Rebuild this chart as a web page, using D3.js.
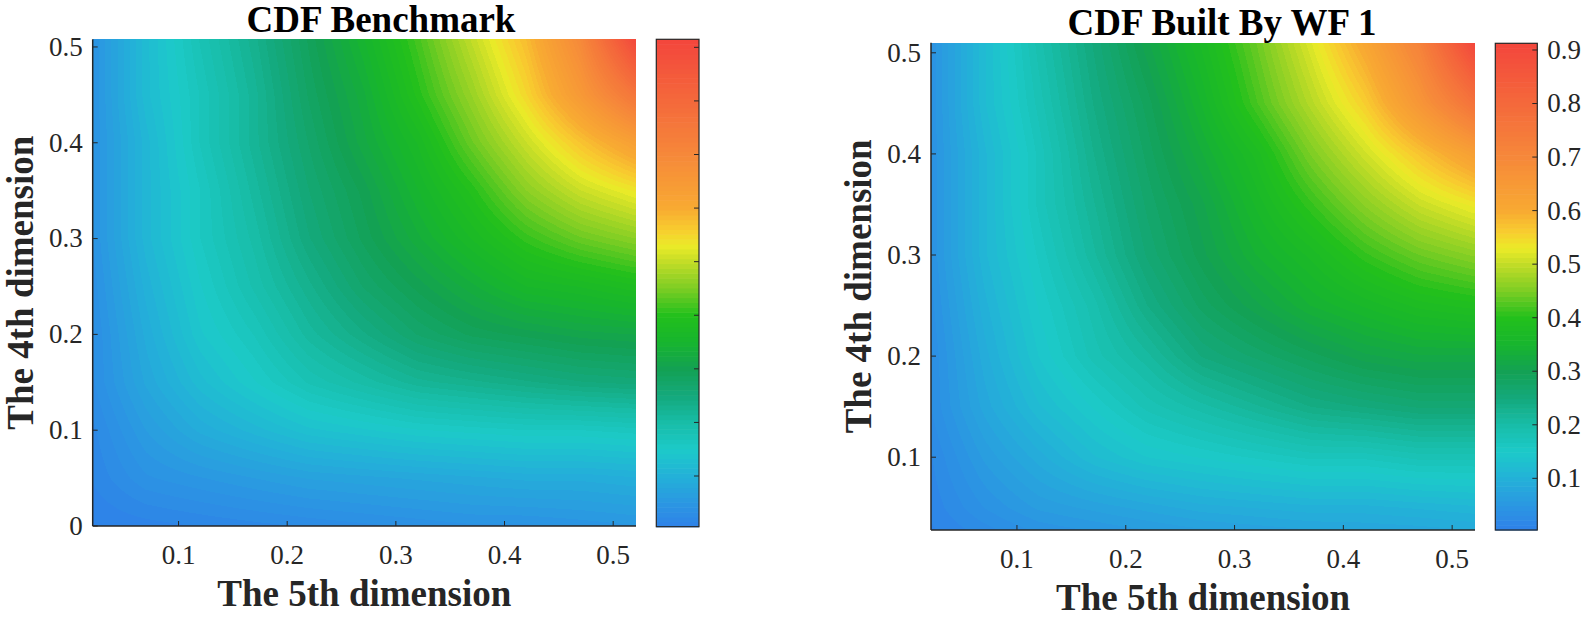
<!DOCTYPE html>
<html>
<head>
<meta charset="utf-8">
<script src="https://cdn.jsdelivr.net/npm/d3@7"></script>
<style>
  body { margin: 0; background: #fff; }
  svg { display: block; }
  text { font-family: "Liberation Serif", "Times New Roman", serif; fill: #262626; }
</style>
</head>
<body>
<svg id="chart" width="1586" height="618" font-family="Liberation Serif, serif"></svg>
<script>
// grid where the CDF was read (5th dimension across, 4th dimension up)
var xGrid = [0.02, 0.07, 0.12, 0.17, 0.22, 0.27, 0.32, 0.37, 0.42, 0.47, 0.52];
var yGrid = [0, 0.05, 0.10, 0.15, 0.20, 0.25, 0.30, 0.35, 0.40, 0.45, 0.51];

// CDF benchmark, one row per yGrid value (bottom to top)
var cdfBench = [
    [0.005, 0.010, 0.015, 0.020, 0.025, 0.030, 0.035, 0.040, 0.040, 0.045, 0.050],
    [0.015, 0.040, 0.050, 0.060, 0.070, 0.075, 0.080, 0.085, 0.090, 0.090, 0.095],
    [0.020, 0.060, 0.090, 0.110, 0.130, 0.140, 0.150, 0.155, 0.160, 0.160, 0.165],
    [0.030, 0.080, 0.120, 0.150, 0.180, 0.200, 0.220, 0.230, 0.240, 0.250, 0.255],
    [0.030, 0.090, 0.140, 0.170, 0.210, 0.240, 0.270, 0.290, 0.300, 0.310, 0.315],
    [0.035, 0.100, 0.150, 0.190, 0.230, 0.270, 0.300, 0.330, 0.360, 0.370, 0.385],
    [0.040, 0.110, 0.160, 0.200, 0.250, 0.290, 0.330, 0.370, 0.410, 0.440, 0.460],
    [0.040, 0.110, 0.160, 0.210, 0.260, 0.300, 0.350, 0.400, 0.460, 0.505, 0.535],
    [0.040, 0.110, 0.170, 0.220, 0.270, 0.320, 0.370, 0.440, 0.505, 0.570, 0.630],
    [0.040, 0.120, 0.170, 0.220, 0.280, 0.330, 0.400, 0.470, 0.550, 0.650, 0.760],
    [0.040, 0.120, 0.180, 0.230, 0.290, 0.350, 0.420, 0.500, 0.580, 0.700, 0.910]
];

// CDF built by WF 1
var cdfWF1 = [
    [0.005, 0.010, 0.020, 0.025, 0.030, 0.035, 0.040, 0.045, 0.050, 0.050, 0.055],
    [0.015, 0.040, 0.060, 0.070, 0.080, 0.090, 0.095, 0.100, 0.100, 0.105, 0.110],
    [0.020, 0.060, 0.090, 0.120, 0.140, 0.150, 0.160, 0.170, 0.170, 0.180, 0.180],
    [0.030, 0.080, 0.120, 0.150, 0.180, 0.200, 0.220, 0.240, 0.250, 0.260, 0.260],
    [0.030, 0.090, 0.140, 0.180, 0.210, 0.250, 0.270, 0.290, 0.310, 0.320, 0.320],
    [0.035, 0.100, 0.150, 0.190, 0.240, 0.280, 0.310, 0.340, 0.360, 0.380, 0.390],
    [0.040, 0.110, 0.160, 0.210, 0.260, 0.300, 0.340, 0.370, 0.410, 0.440, 0.460],
    [0.040, 0.110, 0.170, 0.220, 0.270, 0.310, 0.360, 0.410, 0.460, 0.505, 0.535],
    [0.040, 0.110, 0.170, 0.230, 0.280, 0.330, 0.380, 0.450, 0.510, 0.570, 0.630],
    [0.040, 0.120, 0.180, 0.240, 0.290, 0.350, 0.420, 0.490, 0.560, 0.660, 0.770],
    [0.040, 0.120, 0.190, 0.250, 0.310, 0.370, 0.440, 0.520, 0.610, 0.720, 0.910]
];

var xTicks = [0.1, 0.2, 0.3, 0.4, 0.5];
var yTicksBench = [0, 0.1, 0.2, 0.3, 0.4, 0.5];
var yTicksWF1 = [0.1, 0.2, 0.3, 0.4, 0.5];
var cbTicks = [0.1, 0.2, 0.3, 0.4, 0.5, 0.6, 0.7, 0.8, 0.9];

// colour map
var cmapStops = [0, 0.05, 0.1, 0.15, 0.2, 0.25, 0.3, 0.35, 0.4, 0.45, 0.5, 0.53, 0.56, 0.6, 0.7, 0.8, 0.91];
var cmapColors = ["#2f7fe9", "#2b97e2", "#23b1d8", "#1ccac9", "#18bda8", "#14a97c", "#13a154", "#17b52e",
                  "#22c01c", "#7ccd24", "#c2dc27", "#ebeb28", "#f8cd2f", "#f8aa32", "#f6883a", "#f4693b", "#f3473c"];

var svg = d3.select("#chart");
var color = d3.scaleLinear().domain(cmapStops).range(cmapColors).clamp(true);

var panels = [
    { title: "CDF Benchmark", z: cdfBench, yTicks: yTicksBench,
      px: [92.7, 636], py: [526, 39.3], xDom: [0.021, 0.521], yDom: [0, 0.508],
      cb: { x: 656.3, w: 42.7, y: [526.7, 39.3], dom: [0.0054, 0.915], labels: false },
      titleX: 381, titleY: 32, xlabY: 606, ylabX: 33 },
    { title: "CDF Built By WF 1", z: cdfWF1, yTicks: yTicksWF1,
      px: [931, 1475], py: [530, 42.7], xDom: [0.021, 0.521], yDom: [0.028, 0.51],
      cb: { x: 1495.3, w: 42, y: [530, 43.3], dom: [0.0035, 0.9125], labels: true },
      titleX: 1222, titleY: 35, xlabY: 610, ylabX: 871 }
];

function cdfAt(z, x, y) {
    var i = Math.max(0, Math.min(xGrid.length - 2, d3.bisectRight(xGrid, x) - 1));
    var j = Math.max(0, Math.min(yGrid.length - 2, d3.bisectRight(yGrid, y) - 1));
    var tx = Math.max(0, Math.min(1, (x - xGrid[i]) / (xGrid[i + 1] - xGrid[i])));
    var ty = Math.max(0, Math.min(1, (y - yGrid[j]) / (yGrid[j + 1] - yGrid[j])));
    var a = z[j][i] * (1 - tx) + z[j][i + 1] * tx;
    var b = z[j + 1][i] * (1 - tx) + z[j + 1][i + 1] * tx;
    return a * (1 - ty) + b * ty;
}

panels.forEach(function(p) {
    var x = d3.scaleLinear().domain(p.xDom).range(p.px);
    var y = d3.scaleLinear().domain(p.yDom).range(p.py);
    var nLev = 100;
    var step = (p.cb.dom[1] - p.cb.dom[0]) / nLev;
    var level = function(v) {
        var k = Math.max(0, Math.min(nLev - 1, Math.floor((v - p.cb.dom[0]) / step)));
        return p.cb.dom[0] + (k + 0.5) * step;
    };

    // filled field on a canvas, one pixel at a time
    var x0 = Math.round(p.px[0]), x1 = Math.round(p.px[1]);
    var y0 = Math.round(p.py[1]), y1 = Math.round(p.py[0]);
    var w = x1 - x0, h = y1 - y0;
    var cv = document.createElement("canvas");
    cv.width = w; cv.height = h;
    var ctx = cv.getContext("2d");
    var img = ctx.createImageData(w, h);
    for (var r = 0; r < h; r++) {
        var yv = y.invert(y0 + r + 0.5);
        for (var c = 0; c < w; c++) {
            var xv = x.invert(x0 + c + 0.5);
            var col = d3.rgb(color(level(cdfAt(p.z, xv, yv))));
            var o = (r * w + c) * 4;
            img.data[o] = col.r; img.data[o + 1] = col.g; img.data[o + 2] = col.b; img.data[o + 3] = 255;
        }
    }
    ctx.putImageData(img, 0, 0);
    svg.append("image")
        .attr("x", x0).attr("y", y0)
        .attr("width", w).attr("height", h)
        .attr("preserveAspectRatio", "none")
        .attr("href", cv.toDataURL());

    // axes
    var g = svg.append("g");
    g.append("line").attr("x1", p.px[0]).attr("x2", p.px[1]).attr("y1", p.py[0]).attr("y2", p.py[0])
        .attr("stroke", "#262626").attr("stroke-width", 1.5);
    g.append("line").attr("x1", p.px[0]).attr("x2", p.px[0]).attr("y1", p.py[0]).attr("y2", p.py[1])
        .attr("stroke", "#262626").attr("stroke-width", 1.5);

    xTicks.forEach(function(t) {
        g.append("line").attr("x1", x(t)).attr("x2", x(t)).attr("y1", p.py[0]).attr("y2", p.py[0] - 5)
            .attr("stroke", "#262626").attr("stroke-width", 1);
        g.append("text").attr("x", x(t)).attr("y", p.py[0] + 38)
            .attr("text-anchor", "middle").attr("font-size", 27).text(t.toFixed(1));
    });
    p.yTicks.forEach(function(t) {
        g.append("line").attr("x1", p.px[0]).attr("x2", p.px[0] + 5).attr("y1", y(t)).attr("y2", y(t))
            .attr("stroke", "#262626").attr("stroke-width", 1);
        g.append("text").attr("x", p.px[0] - 10).attr("y", y(t)).attr("dy", "0.33em")
            .attr("text-anchor", "end").attr("font-size", 27).text(t === 0 ? "0" : t.toFixed(1));
    });

    // colour bar
    var cy = d3.scaleLinear().domain(p.cb.dom).range(p.cb.y);
    var cbLevels = d3.range(nLev).map(function(k) { return p.cb.dom[0] + k * step; });
    svg.append("g").selectAll("rect").data(cbLevels).join("rect")
        .attr("x", p.cb.x).attr("width", p.cb.w)
        .attr("y", function(d) { return cy(d + step); })
        .attr("height", function(d) { return cy(d) - cy(d + step) + 0.6; })
        .attr("fill", function(d) { return color(d + step / 2); });
    svg.append("rect").attr("x", p.cb.x).attr("y", p.cb.y[1]).attr("width", p.cb.w)
        .attr("height", p.cb.y[0] - p.cb.y[1]).attr("fill", "none")
        .attr("stroke", "#262626").attr("stroke-width", 1.2);
    cbTicks.forEach(function(t) {
        var xr = p.cb.x + p.cb.w;
        svg.append("line").attr("x1", xr).attr("x2", xr - 5).attr("y1", cy(t)).attr("y2", cy(t))
            .attr("stroke", "#262626").attr("stroke-width", 1);
        if (p.cb.labels) {
            svg.append("text").attr("x", xr + 10).attr("y", cy(t)).attr("dy", "0.33em")
                .attr("font-size", 27).text(t.toFixed(1));
        }
    });

    // titles and labels
    var cx = (p.px[0] + p.px[1]) / 2;
    svg.append("text").attr("x", p.titleX).attr("y", p.titleY).attr("text-anchor", "middle")
        .attr("font-size", 37).attr("font-weight", "bold").style("fill", "#000").text(p.title);
    svg.append("text").attr("x", cx).attr("y", p.xlabY).attr("text-anchor", "middle")
        .attr("font-size", 37).attr("font-weight", "bold").text("The 5th dimension");
    svg.append("text").attr("transform", "translate(" + p.ylabX + "," + ((p.py[0] + p.py[1]) / 2) + ") rotate(-90)")
        .attr("text-anchor", "middle").attr("font-size", 37).attr("font-weight", "bold")
        .text("The 4th dimension");
});
</script>
</body>
</html>
